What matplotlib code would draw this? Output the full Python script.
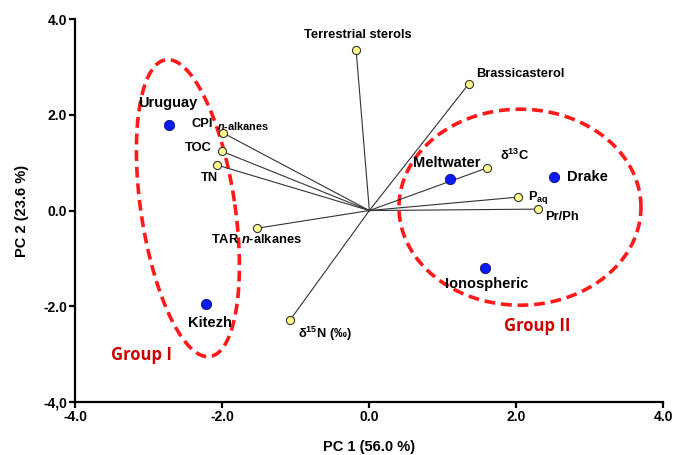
import numpy as np
import matplotlib.pyplot as plt

plt.rcParams['font.family'] = ['Liberation Sans', 'DejaVu Sans']
plt.rcParams['mathtext.fontset'] = 'custom'
plt.rcParams['mathtext.rm'] = 'Liberation Sans:bold'
plt.rcParams['mathtext.bf'] = 'Liberation Sans:bold'
plt.rcParams['mathtext.it'] = 'Liberation Sans:italic:bold'

# sample scores (PC1, PC2)
sites = ['Uruguay', 'Kitezh', 'Meltwater', 'Drake', 'Ionospheric']
site_pc1 = [-2.73, -2.23, 1.10, 2.51, 1.58]
site_pc2 = [1.78, -1.95, 0.66, 0.70, -1.20]

# variable loadings (PC1, PC2)
variables = ['Terrestrial sterols', 'Brassicasterol', 'CPI', 'TOC', 'TN',
             'TAR $\\mathit{n}$-alkanes', 'δ$^{15}$N (‰)', 'δ$^{13}$C',
             'P$_{\\mathrm{aq}}$', 'Pr/Ph']
var_pc1 = [-0.18, 1.35, -1.99, -2.01, -2.07, -1.53, -1.08, 1.60, 2.02, 2.30]
var_pc2 = [3.35, 2.64, 1.62, 1.24, 0.95, -0.37, -2.29, 0.89, 0.28, 0.03]

ticks = [-4, -2, 0, 2, 4]
xtick_labels = ['-4.0', '-2.0', '0.0', '2.0', '4.0']
ytick_labels = ['-4,0', '-2.0', '0.0', '2.0', '4.0']

# label placement (offset pixels, ha)
site_off = [(-1, 22, 'center'), (4, -19, 'center'), (-3, 16, 'center'),
            (13, 0, 'left'), (1, -16, 'center')]
var_off = [(2, 15, 'center'), (8, 10, 'left'), (-10, 9, 'right'),
           (-10, 3, 'right'), (1, -13, 'right'), (-1, -11, 'center'),
           (8, -14, 'left'), (13, 13, 'left'), (10, 0, 'left'), (7, -8, 'left')]

fig = plt.figure(figsize=(6.74, 4.55), dpi=100)
ax = fig.add_axes([0.112, 0.1165, 0.872, 0.8415])
ax.set_xlim(-4, 4)
ax.set_ylim(-4, 4)

sx = 0.872 * 674 / 8.0
sy = 0.8415 * 455 / 8.0


def ellipse(cx, cy, a, b, ang):
    t = np.linspace(0, 2 * np.pi, 300)
    u = a * np.cos(t)
    v = b * np.sin(t)
    r = np.deg2rad(ang)
    px = u * np.cos(r) - v * np.sin(r)
    py = u * np.sin(r) + v * np.cos(r)
    return cx + px / sx, cy + py / sy


for cx, cy, a, b, ang in [(-2.47, 0.05, 47, 150, 8.5), (2.05, 0.07, 121, 98, 0)]:
    ex, ey = ellipse(cx, cy, a, b, ang)
    ax.plot(ex, ey, color='#ff1a1a', lw=2.6, ls=(0, (3, 1.6)), zorder=1)

for x, y in zip(var_pc1, var_pc2):
    ax.plot([0, x], [0, y], color='#333333', lw=0.8, zorder=2)
ax.scatter(var_pc1, var_pc2, s=34, c='#ffff8c', edgecolors='#333333',
           linewidths=0.8, zorder=3)
ax.scatter(site_pc1, site_pc2, s=55, c='#0a1aff', edgecolors='#101060',
           linewidths=0.6, zorder=3)

for name, x, y, (dx, dy, ha) in zip(sites, site_pc1, site_pc2, site_off):
    ax.annotate(name, (x, y), xytext=(dx, dy), textcoords='offset pixels',
                ha=ha, va='center', fontsize=10.5, fontweight='bold')

for name, x, y, (dx, dy, ha) in zip(variables, var_pc1, var_pc2, var_off):
    ax.annotate(name, (x, y), xytext=(dx, dy), textcoords='offset pixels',
                ha=ha, va='center', fontsize=9.3, fontweight='bold')
# small n-alkanes after CPI
ax.annotate('$\\mathit{n}$-alkanes', (var_pc1[2], var_pc2[2]), xytext=(-6, 7),
            textcoords='offset pixels', ha='left', va='center', fontsize=7.8,
            fontweight='bold')

ax.text(-3.52, -3.02, 'Group I', color='#cc0000', fontsize=12,
        fontweight='bold', family='Open Sans', va='center')
ax.text(1.83, -2.41, 'Group II', color='#cc0000', fontsize=12,
        fontweight='bold', family='Open Sans', va='center')

for s in ['top', 'right']:
    ax.spines[s].set_visible(False)
for s in ['left', 'bottom']:
    ax.spines[s].set_linewidth(1.6)
ax.set_xticks(ticks)
ax.set_yticks(ticks)
ax.set_xticklabels(xtick_labels, fontweight='bold', fontsize=10)
ax.set_yticklabels(ytick_labels, fontweight='bold', fontsize=10)
ax.tick_params(width=1.6, length=4, pad=2)
ax.set_xlabel('PC 1 (56.0 %)', fontweight='bold', fontsize=10.5, labelpad=11)
ax.set_ylabel('PC 2 (23.6 %)', fontweight='bold', fontsize=10.5, labelpad=10)

fig.savefig('out.png', dpi=100)
